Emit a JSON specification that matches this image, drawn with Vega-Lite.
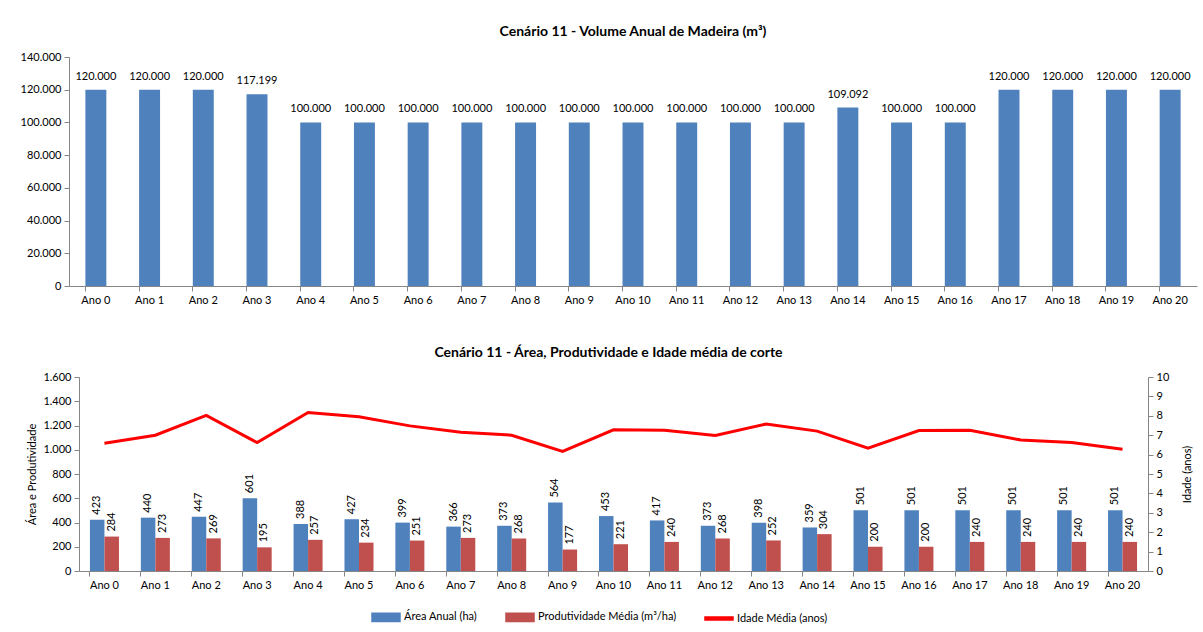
{
  "$schema": "https://vega.github.io/schema/vega-lite/v6.json",
  "padding": {"left": 20, "top": 25, "right": 2, "bottom": 0},
  "background": "#ffffff",
  "spacing": 41,
  "align": "none",
  "resolve": {"legend": {"color": "independent"}, "scale": {"color": "independent"}},
  "datasets": {
    "volume": [
      {"ano": "Ano 0", "volume": 120000}, {"ano": "Ano 1", "volume": 120000}, {"ano": "Ano 2", "volume": 120000},
      {"ano": "Ano 3", "volume": 117199}, {"ano": "Ano 4", "volume": 100000}, {"ano": "Ano 5", "volume": 100000},
      {"ano": "Ano 6", "volume": 100000}, {"ano": "Ano 7", "volume": 100000}, {"ano": "Ano 8", "volume": 100000},
      {"ano": "Ano 9", "volume": 100000}, {"ano": "Ano 10", "volume": 100000}, {"ano": "Ano 11", "volume": 100000},
      {"ano": "Ano 12", "volume": 100000}, {"ano": "Ano 13", "volume": 100000}, {"ano": "Ano 14", "volume": 109092},
      {"ano": "Ano 15", "volume": 100000}, {"ano": "Ano 16", "volume": 100000}, {"ano": "Ano 17", "volume": 120000},
      {"ano": "Ano 18", "volume": 120000}, {"ano": "Ano 19", "volume": 120000}, {"ano": "Ano 20", "volume": 120000}
    ],
    "barras": [
      {"ano": "Ano 0", "serie": "area", "valor": 423}, {"ano": "Ano 0", "serie": "prod", "valor": 284},
      {"ano": "Ano 1", "serie": "area", "valor": 440}, {"ano": "Ano 1", "serie": "prod", "valor": 273},
      {"ano": "Ano 2", "serie": "area", "valor": 447}, {"ano": "Ano 2", "serie": "prod", "valor": 269},
      {"ano": "Ano 3", "serie": "area", "valor": 601}, {"ano": "Ano 3", "serie": "prod", "valor": 195},
      {"ano": "Ano 4", "serie": "area", "valor": 388}, {"ano": "Ano 4", "serie": "prod", "valor": 257},
      {"ano": "Ano 5", "serie": "area", "valor": 427}, {"ano": "Ano 5", "serie": "prod", "valor": 234},
      {"ano": "Ano 6", "serie": "area", "valor": 399}, {"ano": "Ano 6", "serie": "prod", "valor": 251},
      {"ano": "Ano 7", "serie": "area", "valor": 366}, {"ano": "Ano 7", "serie": "prod", "valor": 273},
      {"ano": "Ano 8", "serie": "area", "valor": 373}, {"ano": "Ano 8", "serie": "prod", "valor": 268},
      {"ano": "Ano 9", "serie": "area", "valor": 564}, {"ano": "Ano 9", "serie": "prod", "valor": 177},
      {"ano": "Ano 10", "serie": "area", "valor": 453}, {"ano": "Ano 10", "serie": "prod", "valor": 221},
      {"ano": "Ano 11", "serie": "area", "valor": 417}, {"ano": "Ano 11", "serie": "prod", "valor": 240},
      {"ano": "Ano 12", "serie": "area", "valor": 373}, {"ano": "Ano 12", "serie": "prod", "valor": 268},
      {"ano": "Ano 13", "serie": "area", "valor": 398}, {"ano": "Ano 13", "serie": "prod", "valor": 252},
      {"ano": "Ano 14", "serie": "area", "valor": 359}, {"ano": "Ano 14", "serie": "prod", "valor": 304},
      {"ano": "Ano 15", "serie": "area", "valor": 501}, {"ano": "Ano 15", "serie": "prod", "valor": 200},
      {"ano": "Ano 16", "serie": "area", "valor": 501}, {"ano": "Ano 16", "serie": "prod", "valor": 200},
      {"ano": "Ano 17", "serie": "area", "valor": 501}, {"ano": "Ano 17", "serie": "prod", "valor": 240},
      {"ano": "Ano 18", "serie": "area", "valor": 501}, {"ano": "Ano 18", "serie": "prod", "valor": 240},
      {"ano": "Ano 19", "serie": "area", "valor": 501}, {"ano": "Ano 19", "serie": "prod", "valor": 240},
      {"ano": "Ano 20", "serie": "area", "valor": 501}, {"ano": "Ano 20", "serie": "prod", "valor": 240}
    ],
    "idade": [
      {"ano": "Ano 0", "idade": 6.59}, {"ano": "Ano 1", "idade": 7.0}, {"ano": "Ano 2", "idade": 8.02},
      {"ano": "Ano 3", "idade": 6.62}, {"ano": "Ano 4", "idade": 8.17}, {"ano": "Ano 5", "idade": 7.95},
      {"ano": "Ano 6", "idade": 7.48}, {"ano": "Ano 7", "idade": 7.15}, {"ano": "Ano 8", "idade": 7.0},
      {"ano": "Ano 9", "idade": 6.16}, {"ano": "Ano 10", "idade": 7.28}, {"ano": "Ano 11", "idade": 7.25},
      {"ano": "Ano 12", "idade": 6.99}, {"ano": "Ano 13", "idade": 7.58}, {"ano": "Ano 14", "idade": 7.21},
      {"ano": "Ano 15", "idade": 6.33}, {"ano": "Ano 16", "idade": 7.24}, {"ano": "Ano 17", "idade": 7.25},
      {"ano": "Ano 18", "idade": 6.75}, {"ano": "Ano 19", "idade": 6.62}, {"ano": "Ano 20", "idade": 6.28}
    ]
  },
  "vconcat": [
    {
      "width": 1128,
      "height": 229,
      "data": {"name": "volume"},
      "title": {"text": "Cenário 11 - Volume Anual de Madeira (m³)", "offset": 12},
      "encoding": {
        "x": {
          "field": "ano", "type": "nominal",
          "sort": ["Ano 0","Ano 1","Ano 2","Ano 3","Ano 4","Ano 5","Ano 6","Ano 7","Ano 8","Ano 9","Ano 10","Ano 11","Ano 12","Ano 13","Ano 14","Ano 15","Ano 16","Ano 17","Ano 18","Ano 19","Ano 20"],
          "scale": {"paddingInner": 0.61, "paddingOuter": 0.305},
          "axis": {"title": null, "labelAngle": 0, "ticks": true, "bandPosition": 0, "tickSize": 5, "labelPadding": 3}
        },
        "y": {
          "field": "volume", "type": "quantitative",
          "scale": {"domain": [0, 140000]},
          "axis": {"title": null, "values": [0,20000,40000,60000,80000,100000,120000,140000], "format": ",d", "tickSize": 5, "labelPadding": 3}
        }
      },
      "layer": [
        {"mark": {"type": "bar", "color": "#4F81BD"}},
        {"mark": {"type": "text", "baseline": "bottom", "dy": -8, "fontSize": 11, "color": "#000000"},
         "encoding": {"text": {"field": "volume", "type": "quantitative", "format": ",d"}}}
      ]
    },
    {
      "width": 1079,
      "height": 194,
      "title": {"text": "Cenário 11 - Área, Produtividade e Idade média de corte", "offset": 11, "anchor": "middle"},
      "layer": [
        {
          "data": {"name": "barras"},
          "encoding": {
            "x": {
              "field": "ano", "type": "nominal",
              "sort": ["Ano 0","Ano 1","Ano 2","Ano 3","Ano 4","Ano 5","Ano 6","Ano 7","Ano 8","Ano 9","Ano 10","Ano 11","Ano 12","Ano 13","Ano 14","Ano 15","Ano 16","Ano 17","Ano 18","Ano 19","Ano 20"],
              "scale": {"paddingInner": 0.43, "paddingOuter": 0.215, "range": [10, 1079]},
              "axis": {"title": null, "labelAngle": 0, "ticks": true, "bandPosition": 0, "tickSize": 5, "labelPadding": 3}
            },
            "xOffset": {"field": "serie", "type": "nominal", "scale": {"domain": ["area", "prod"], "paddingInner": 0}},
            "y": {
              "field": "valor", "type": "quantitative",
              "scale": {"domain": [0, 1600]},
              "axis": {"title": "Área e  Produtividade", "titleFontWeight": "normal", "titleFontSize": 11, "titlePadding": 5, "offset": -10,
                       "values": [0,200,400,600,800,1000,1200,1400,1600], "format": ",d", "tickSize": 5, "labelPadding": 3}
            }
          },
          "layer": [
            {
              "mark": {"type": "bar"},
              "encoding": {
                "color": {
                  "field": "serie", "type": "nominal",
                  "scale": {"domain": ["area", "prod", "idade"], "range": ["#4F81BD", "#C0504D", "#FF0000"]},
                  "legend": {
                    "title": null, "orient": "none", "direction": "horizontal", "legendX": 302, "legendY": 225,
                    "labelExpr": "datum.value == 'area' ? 'Área Anual (ha)' : datum.value == 'prod' ? 'Produtividade Média (m³/ha)' : 'Idade Média (anos)'",
                    "labelFontSize": 11, "labelOffset": 3, "columnPadding": 25,
                    "encode": {
                      "symbols": {
                        "update": {
                          "shape": {"signal": "datum.value == 'idade' ? 'M-1,-0.11H1V0.11H-1Z' : 'M-1,-0.3H1V0.3H-1Z'"},
                          "size": {"value": 784},
                          "fill": {"scale": "color", "field": "value"},
                          "stroke": {"value": "transparent"},
                          "opacity": {"value": 1},
                          "fillOpacity": {"value": 1}
                        }
                      }
                    }
                  }
                }
              }
            },
            {
              "mark": {"type": "text", "angle": 270, "align": "left", "baseline": "middle", "dx": 5, "fontSize": 11, "color": "#000000"},
              "encoding": {"text": {"field": "valor", "type": "quantitative", "format": "d"}}
            }
          ]
        },
        {
          "data": {"name": "idade"},
          "mark": {"type": "line", "strokeWidth": 3},
          "encoding": {
            "x": {
              "field": "ano", "type": "nominal",
              "sort": ["Ano 0","Ano 1","Ano 2","Ano 3","Ano 4","Ano 5","Ano 6","Ano 7","Ano 8","Ano 9","Ano 10","Ano 11","Ano 12","Ano 13","Ano 14","Ano 15","Ano 16","Ano 17","Ano 18","Ano 19","Ano 20"]
            },
            "y": {
              "field": "idade", "type": "quantitative",
              "scale": {"domain": [0, 10]},
              "axis": {"orient": "right", "title": "Idade (anos)", "titleAngle": 270, "titleFontWeight": "normal", "titleFontSize": 11,
                       "titlePadding": 24, "values": [0,1,2,3,4,5,6,7,8,9,10], "tickSize": 5, "labelPadding": 3}
            },
            "color": {"datum": "idade"}
          }
        }
      ],
      "resolve": {"scale": {"y": "independent"}}
    }
  ],
  "config": {
    "locale": {"number": {"decimal": ",", "thousands": ".", "grouping": [3], "currency": ["R$", ""]}},
    "font": "Lato",
    "view": {"stroke": null},
    "title": {"fontSize": 14, "fontWeight": "bold", "color": "#000000", "font": "Lato"},
    "axis": {
      "grid": false, "domainColor": "#868686", "tickColor": "#868686",
      "labelColor": "#000000", "labelFontSize": 11, "titleColor": "#000000", "labelFont": "Lato", "titleFont": "Lato"
    },
    "legend": {"labelColor": "#000000", "labelFont": "Lato"}
  }
}
